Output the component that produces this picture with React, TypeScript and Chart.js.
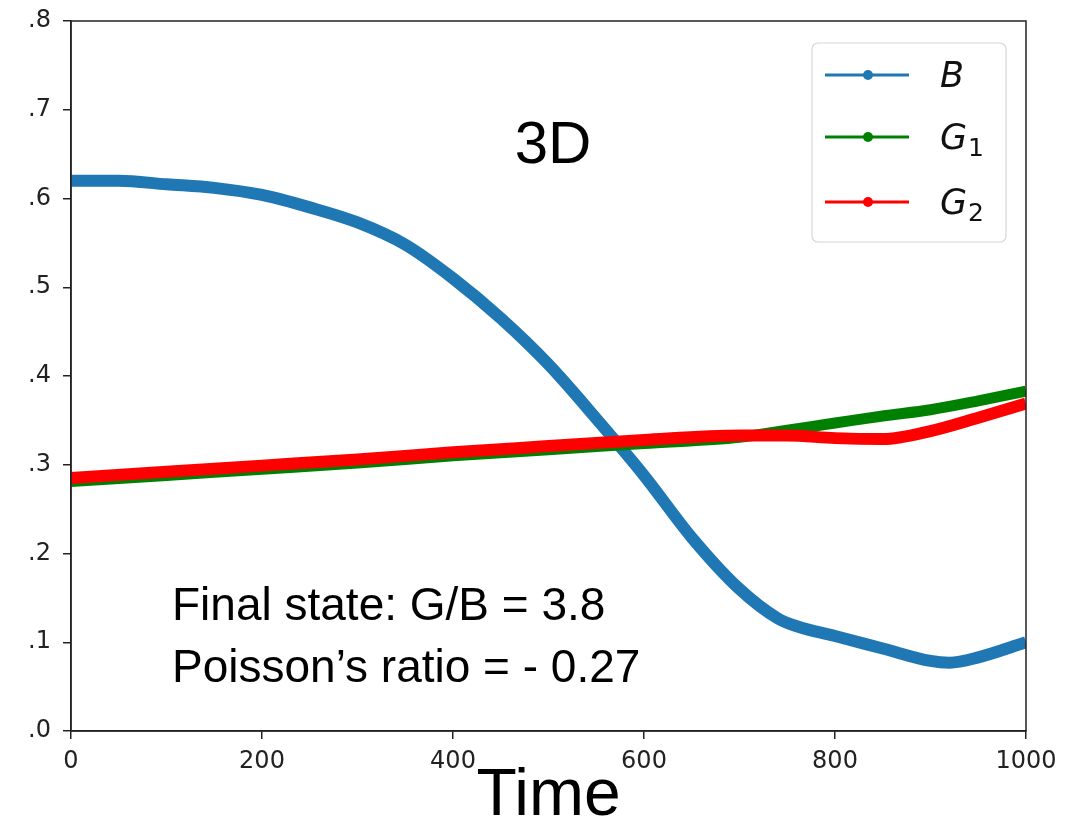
import React, { useEffect, useRef } from "react";
import { Chart, registerables } from "chart.js";

Chart.register(...registerables);

const timeB = [0, 50, 100, 150, 200, 250, 300, 350, 400, 450, 500, 550, 600, 650, 700, 740, 760, 800, 850, 900, 920, 950, 1000];
const valuesB = [0.620, 0.620, 0.616, 0.612, 0.604, 0.590, 0.573, 0.548, 0.510, 0.465, 0.413, 0.352, 0.288, 0.218, 0.160, 0.127, 0.118, 0.107, 0.093, 0.079, 0.077, 0.083, 0.100];

const timeG = [0, 100, 200, 300, 400, 500, 600, 700, 750, 800, 850, 900, 950, 1000];
const valuesG1 = [0.281, 0.288, 0.295, 0.302, 0.310, 0.317, 0.324, 0.331, 0.339, 0.347, 0.355, 0.362, 0.372, 0.383];
const valuesG2 = [0.285, 0.292, 0.299, 0.306, 0.314, 0.321, 0.328, 0.333, 0.333, 0.330, 0.329, 0.338, 0.353, 0.369];

const xTicks = [0, 200, 400, 600, 800, 1000];

const seriesNames = ["B", "G", "G"];
const seriesSubs = ["", "1", "2"];
const seriesColors = ["#1f77b4", "#008000", "#ff0000"];

const panelLabel = "3D";
const noteLines = ["Final state: G/B = 3.8", "Poisson\u2019s ratio = - 0.27"];
const xTitle = "Time";

const toPoints = (xs: number[], ys: number[]) => xs.map((x, i) => ({ x, y: ys[i] }));

const overlayPlugin = {
  id: "overlay",
  afterDatasetsDraw(chart: any) {
    const { ctx, chartArea } = chart;
    ctx.save();
    ctx.strokeStyle = "#222";
    ctx.lineWidth = 1.5;
    ctx.strokeRect(chartArea.left, chartArea.top, chartArea.right - chartArea.left, chartArea.bottom - chartArea.top);

    ctx.fillStyle = "#000";
    ctx.font = '60px "Liberation Sans", Arial, sans-serif';
    ctx.textAlign = "center";
    ctx.textBaseline = "alphabetic";
    ctx.fillText(panelLabel, 553, 163);

    ctx.textAlign = "left";
    ctx.font = '46px "Liberation Sans", Arial, sans-serif';
    ctx.fillText(noteLines[0], 172, 620);
    ctx.fillText(noteLines[1], 172, 682);

    const bx = 812, by = 43, bw = 194, bh = 199, r = 6;
    ctx.beginPath();
    ctx.moveTo(bx + r, by);
    ctx.arcTo(bx + bw, by, bx + bw, by + bh, r);
    ctx.arcTo(bx + bw, by + bh, bx, by + bh, r);
    ctx.arcTo(bx, by + bh, bx, by, r);
    ctx.arcTo(bx, by, bx + bw, by, r);
    ctx.closePath();
    ctx.fillStyle = "rgba(255,255,255,0.85)";
    ctx.fill();
    ctx.strokeStyle = "#d6d6d6";
    ctx.lineWidth = 1.2;
    ctx.stroke();

    const rowsY = [75, 137, 202];
    seriesNames.forEach((name, i) => {
      const y = rowsY[i];
      ctx.strokeStyle = seriesColors[i];
      ctx.lineWidth = 3;
      ctx.beginPath();
      ctx.moveTo(825, y);
      ctx.lineTo(909, y);
      ctx.stroke();
      ctx.fillStyle = seriesColors[i];
      ctx.beginPath();
      ctx.arc(868, y, 5, 0, Math.PI * 2);
      ctx.fill();

      ctx.fillStyle = "#111";
      ctx.font = 'oblique 35px "DejaVu Sans", sans-serif';
      ctx.textAlign = "left";
      ctx.textBaseline = "alphabetic";
      const ty = y + 12;
      ctx.fillText(name, 940, ty);
      if (seriesSubs[i]) {
        const w = ctx.measureText(name).width;
        ctx.font = '25px "DejaVu Sans", sans-serif';
        ctx.fillText(seriesSubs[i], 940 + w + 1, ty + 7);
      }
    });
    ctx.restore();
  },
};

export default function App() {
  const ref = useRef<HTMLCanvasElement>(null);
  useEffect(() => {
    if (!ref.current) return;
    const tickFont = { family: '"DejaVu Sans", sans-serif', size: 24 };
    const chart = new Chart(ref.current, {
      type: "line",
      data: {
        datasets: [
          {
            label: "B",
            data: toPoints(timeB, valuesB),
            borderColor: seriesColors[0],
            backgroundColor: seriesColors[0],
            borderWidth: 12,
            pointRadius: 0,
            order: 3,
            cubicInterpolationMode: "monotone",
          },
          {
            label: "G1",
            data: toPoints(timeG, valuesG1),
            borderColor: seriesColors[1],
            backgroundColor: seriesColors[1],
            borderWidth: 11,
            pointRadius: 0,
            order: 2,
            cubicInterpolationMode: "monotone",
          },
          {
            label: "G2",
            data: toPoints(timeG, valuesG2),
            borderColor: seriesColors[2],
            backgroundColor: seriesColors[2],
            borderWidth: 12,
            pointRadius: 0,
            order: 1,
            cubicInterpolationMode: "monotone",
          },
        ],
      },
      options: {
        responsive: false,
        animation: false,
        events: [],
        layout: { padding: { left: 0, top: 21, right: 49, bottom: 0 } },
        plugins: { legend: { display: false }, tooltip: { enabled: false } },
        scales: {
          x: {
            type: "linear",
            min: 0,
            max: 1000,
            afterBuildTicks: (s: any) => {
              s.ticks = xTicks.map((v) => ({ value: v }));
            },
            ticks: {
              font: tickFont,
              color: "#222",
              padding: 8,
              maxRotation: 0,
              callback: (v: any) => String(v),
            },
            grid: { drawOnChartArea: false, drawTicks: true, tickLength: 8, color: "#222", lineWidth: 1.5 },
            border: { display: true, color: "#222", width: 1.5 },
            title: {
              display: true,
              text: xTitle,
              color: "#000",
              font: { family: '"Liberation Sans", Arial, sans-serif', size: 66, lineHeight: 0.8 },
              padding: 0,
            },
            afterFit: (s: any) => {
              s.height = 92;
              s.paddingLeft = 0;
              s.paddingRight = 0;
            },
          },
          y: {
            type: "linear",
            min: 0,
            max: 0.8,
            ticks: {
              stepSize: 0.1,
              font: tickFont,
              color: "#222",
              padding: 12,
              callback: (v: any) => "." + Math.round(Number(v) * 10),
            },
            grid: { drawOnChartArea: false, drawTicks: true, tickLength: 8, color: "#222", lineWidth: 1.5 },
            border: { display: true, color: "#222", width: 1.5 },
            afterFit: (s: any) => {
              s.width = 71;
              s.paddingTop = 0;
              s.paddingBottom = 0;
            },
          },
        },
      },
      plugins: [overlayPlugin],
    } as any);
    return () => chart.destroy();
  }, []);
  return (
    <div style={{ position: "fixed", left: 0, top: 0, width: 1075, height: 823, background: "#fff" }}>
      <canvas ref={ref} width={1075} height={823} style={{ display: "block" }} />
    </div>
  );
}
